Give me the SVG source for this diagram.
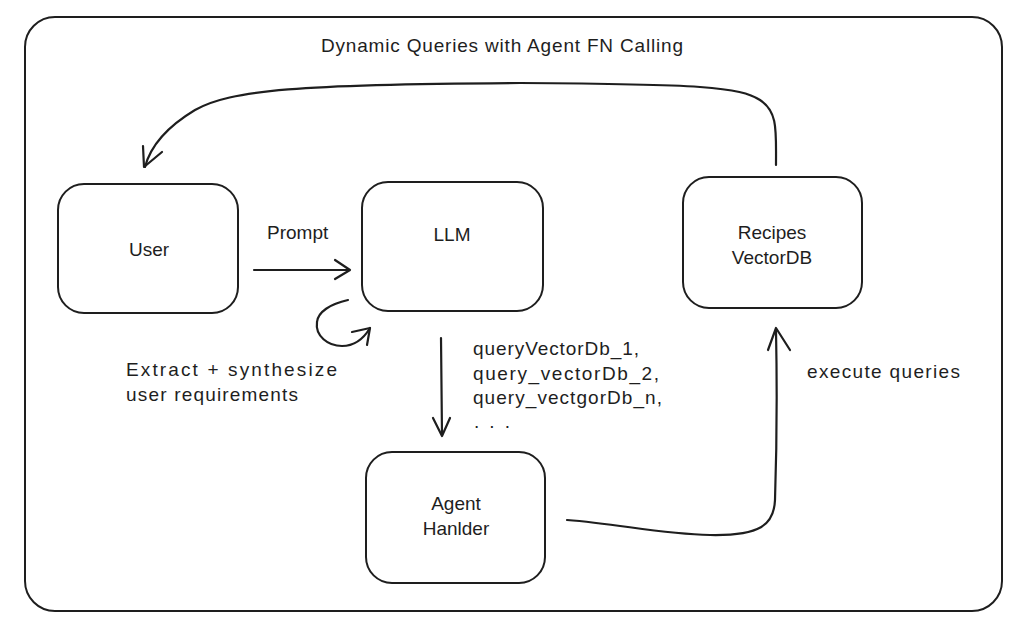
<svg xmlns="http://www.w3.org/2000/svg" width="1019" height="630" viewBox="0 0 1019 630">
<style>
.box{fill:none;stroke:#1e1e1e;stroke-width:2;}
.ln{fill:none;stroke:#1e1e1e;stroke-width:2.2;stroke-linecap:round;stroke-linejoin:round;}
.t{font-family:"Liberation Sans","DejaVu Sans",sans-serif;font-size:19px;fill:#1e1e1e;}
.c{text-anchor:middle;}
</style>
<rect width="1019" height="630" fill="#ffffff"/>
<g id="frame">
<rect class="box" x="25" y="17" width="977" height="594" rx="30"/>
<text class="t" x="321" y="52" textLength="362" lengthAdjust="spacing">Dynamic Queries with Agent FN Calling</text>
</g>
<g id="user">
<rect class="box" x="58" y="184" width="180" height="129" rx="26"/>
<text class="t c" x="149" y="256">User</text>
</g>
<g id="llm">
<rect class="box" x="362" y="182" width="181" height="129" rx="26"/>
<text class="t c" x="452" y="241">LLM</text>
</g>
<g id="recipes">
<rect class="box" x="683" y="177" width="179" height="131" rx="26"/>
<text class="t c" x="772" y="239">Recipes</text>
<text class="t c" x="772" y="264">VectorDB</text>
</g>
<g id="agent">
<rect class="box" x="366" y="452" width="179" height="131" rx="26"/>
<text class="t c" x="456" y="510">Agent</text>
<text class="t c" x="456" y="535">Hanlder</text>
</g>
<g id="connectors">
<path class="ln" d="M254 270 L349 270"/>
<path class="ln" d="M335 260 L350 270 L335 279"/>
<path class="ln" d="M348 300 C330 304 318 312 317 322 C315 336 328 346 342 346 C356 346 364 338 370 328"/>
<path class="ln" d="M352 332 L370 328 L367 345"/>
<path class="ln" d="M441 338 L442 435"/>
<path class="ln" d="M433 418 L442 436 L450 418"/>
<path class="ln" d="M567 520 C620 524 660 534 710 535 C760 536 774 525 775 500 C777 440 777 380 776 330"/>
<path class="ln" d="M768 350 L776 328 L790 350"/>
<path class="ln" d="M776 165 C776 130 778 112 760 100 C740 87 700 84 520 83 C300 84 230 90 195 110 C165 128 150 148 145 167"/>
<path class="ln" d="M143 146 L144 167 L162 152"/>
</g>
<g id="labels">
<text class="t" x="267" y="239">Prompt</text>
<text class="t" x="126" y="376" textLength="211" lengthAdjust="spacing">Extract + synthesize</text>
<text class="t" x="126" y="401" textLength="172" lengthAdjust="spacing">user requirements</text>
<text class="t" x="473" y="355" textLength="166" lengthAdjust="spacing">queryVectorDb_1,</text>
<text class="t" x="473" y="380" textLength="186" lengthAdjust="spacing">query_vectorDb_2,</text>
<text class="t" x="473" y="404" textLength="189" lengthAdjust="spacing">query_vectgorDb_n,</text>
<text class="t" x="474" y="428" textLength="36" lengthAdjust="spacing">. . .</text>
<text class="t" x="807" y="378" textLength="153" lengthAdjust="spacing">execute queries</text>
</g>
</svg>
